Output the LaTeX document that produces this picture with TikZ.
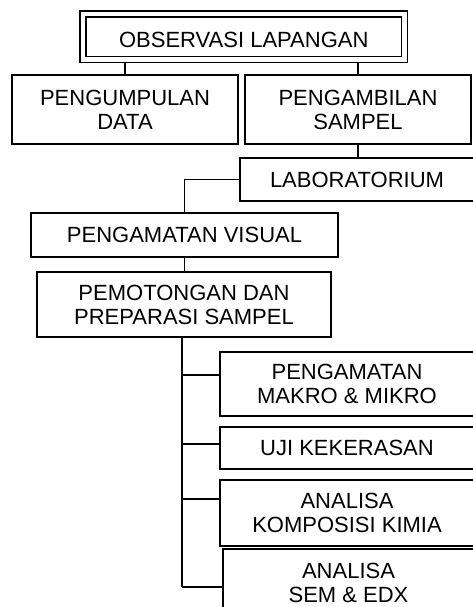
\documentclass[tikz,border=0pt]{standalone}
\usepackage{fontspec}
\setmainfont{Liberation Sans}
\pgfdeclarelayer{edgelayer}
\pgfdeclarelayer{nodelayer}
\pgfsetlayers{edgelayer,nodelayer,main}
\tikzstyle{none}=[inner sep=0pt]
\tikzstyle{box}=[rectangle,fill=white,draw=black,line width=1.1pt,align=center,inner sep=0pt,font=\fontsize{22}{24}\selectfont]
\tikzstyle{titlebox}=[box,double,double distance=4.8pt,line width=1.2pt,text height=22.5pt,text depth=0pt]
\tikzstyle{link}=[draw=black,line width=1.1pt]

\begin{document}
\begin{tikzpicture}[x=1pt,y=-1pt]
	\useasboundingbox (0,0) rectangle (472,607);
	\begin{pgfonlayer}{nodelayer}
		\node [style=titlebox, minimum width=321.5pt, minimum height=45.5pt] (0) at (243.75, 36.75) {OBSERVASI LAPANGAN};
		\node [style=box, minimum width=226pt, minimum height=69pt] (1) at (125, 109.5) {PENGUMPULAN\\DATA};
		\node [style=box, minimum width=226pt, minimum height=69pt] (2) at (358, 109.5) {PENGAMBILAN\\SAMPEL};
		\node [style=box, minimum width=234pt, minimum height=43pt] (3) at (357, 179.5) {LABORATORIUM};
		\node [style=box, minimum width=307pt, minimum height=44pt] (4) at (184.5, 235) {PENGAMATAN VISUAL};
		\node [style=box, minimum width=294pt, minimum height=65pt] (5) at (184, 304.5) {PEMOTONGAN DAN\\PREPARASI SAMPEL};
		\node [style=box, minimum width=254pt, minimum height=64pt] (6) at (347, 384) {PENGAMATAN\\MAKRO \& MIKRO};
		\node [style=box, minimum width=254pt, minimum height=42pt] (7) at (347, 448) {UJI KEKERASAN};
		\node [style=box, minimum width=254pt, minimum height=66pt] (8) at (347, 513) {ANALISA\\KOMPOSISI KIMIA};
		\node [style=box, minimum width=251pt, minimum height=68pt] (9) at (348.5, 583) {ANALISA\\SEM \& EDX};
		\coordinate (10) at (182, 375);
		\coordinate (11) at (182, 444);
		\coordinate (12) at (182, 499);
		\coordinate (13) at (182, 587);
	\end{pgfonlayer}
	\begin{pgfonlayer}{edgelayer}
		\draw [style=link] (1) to (1 |- 0);
		\draw [style=link] (2) to (2 |- 0);
		\draw [style=link] (2) to (2 |- 3);
		\draw [style=link] (3) -| (4);
		\draw [style=link] (4) to (4 |- 5);
		\draw [style=link] (13) to (13 |- 5);
		\draw [style=link] (10) to (10 -| 6);
		\draw [style=link] (11) to (11 -| 7);
		\draw [style=link] (12) to (12 -| 8);
		\draw [style=link] (13) to (13 -| 9);
	\end{pgfonlayer}
\end{tikzpicture}
\end{document}
